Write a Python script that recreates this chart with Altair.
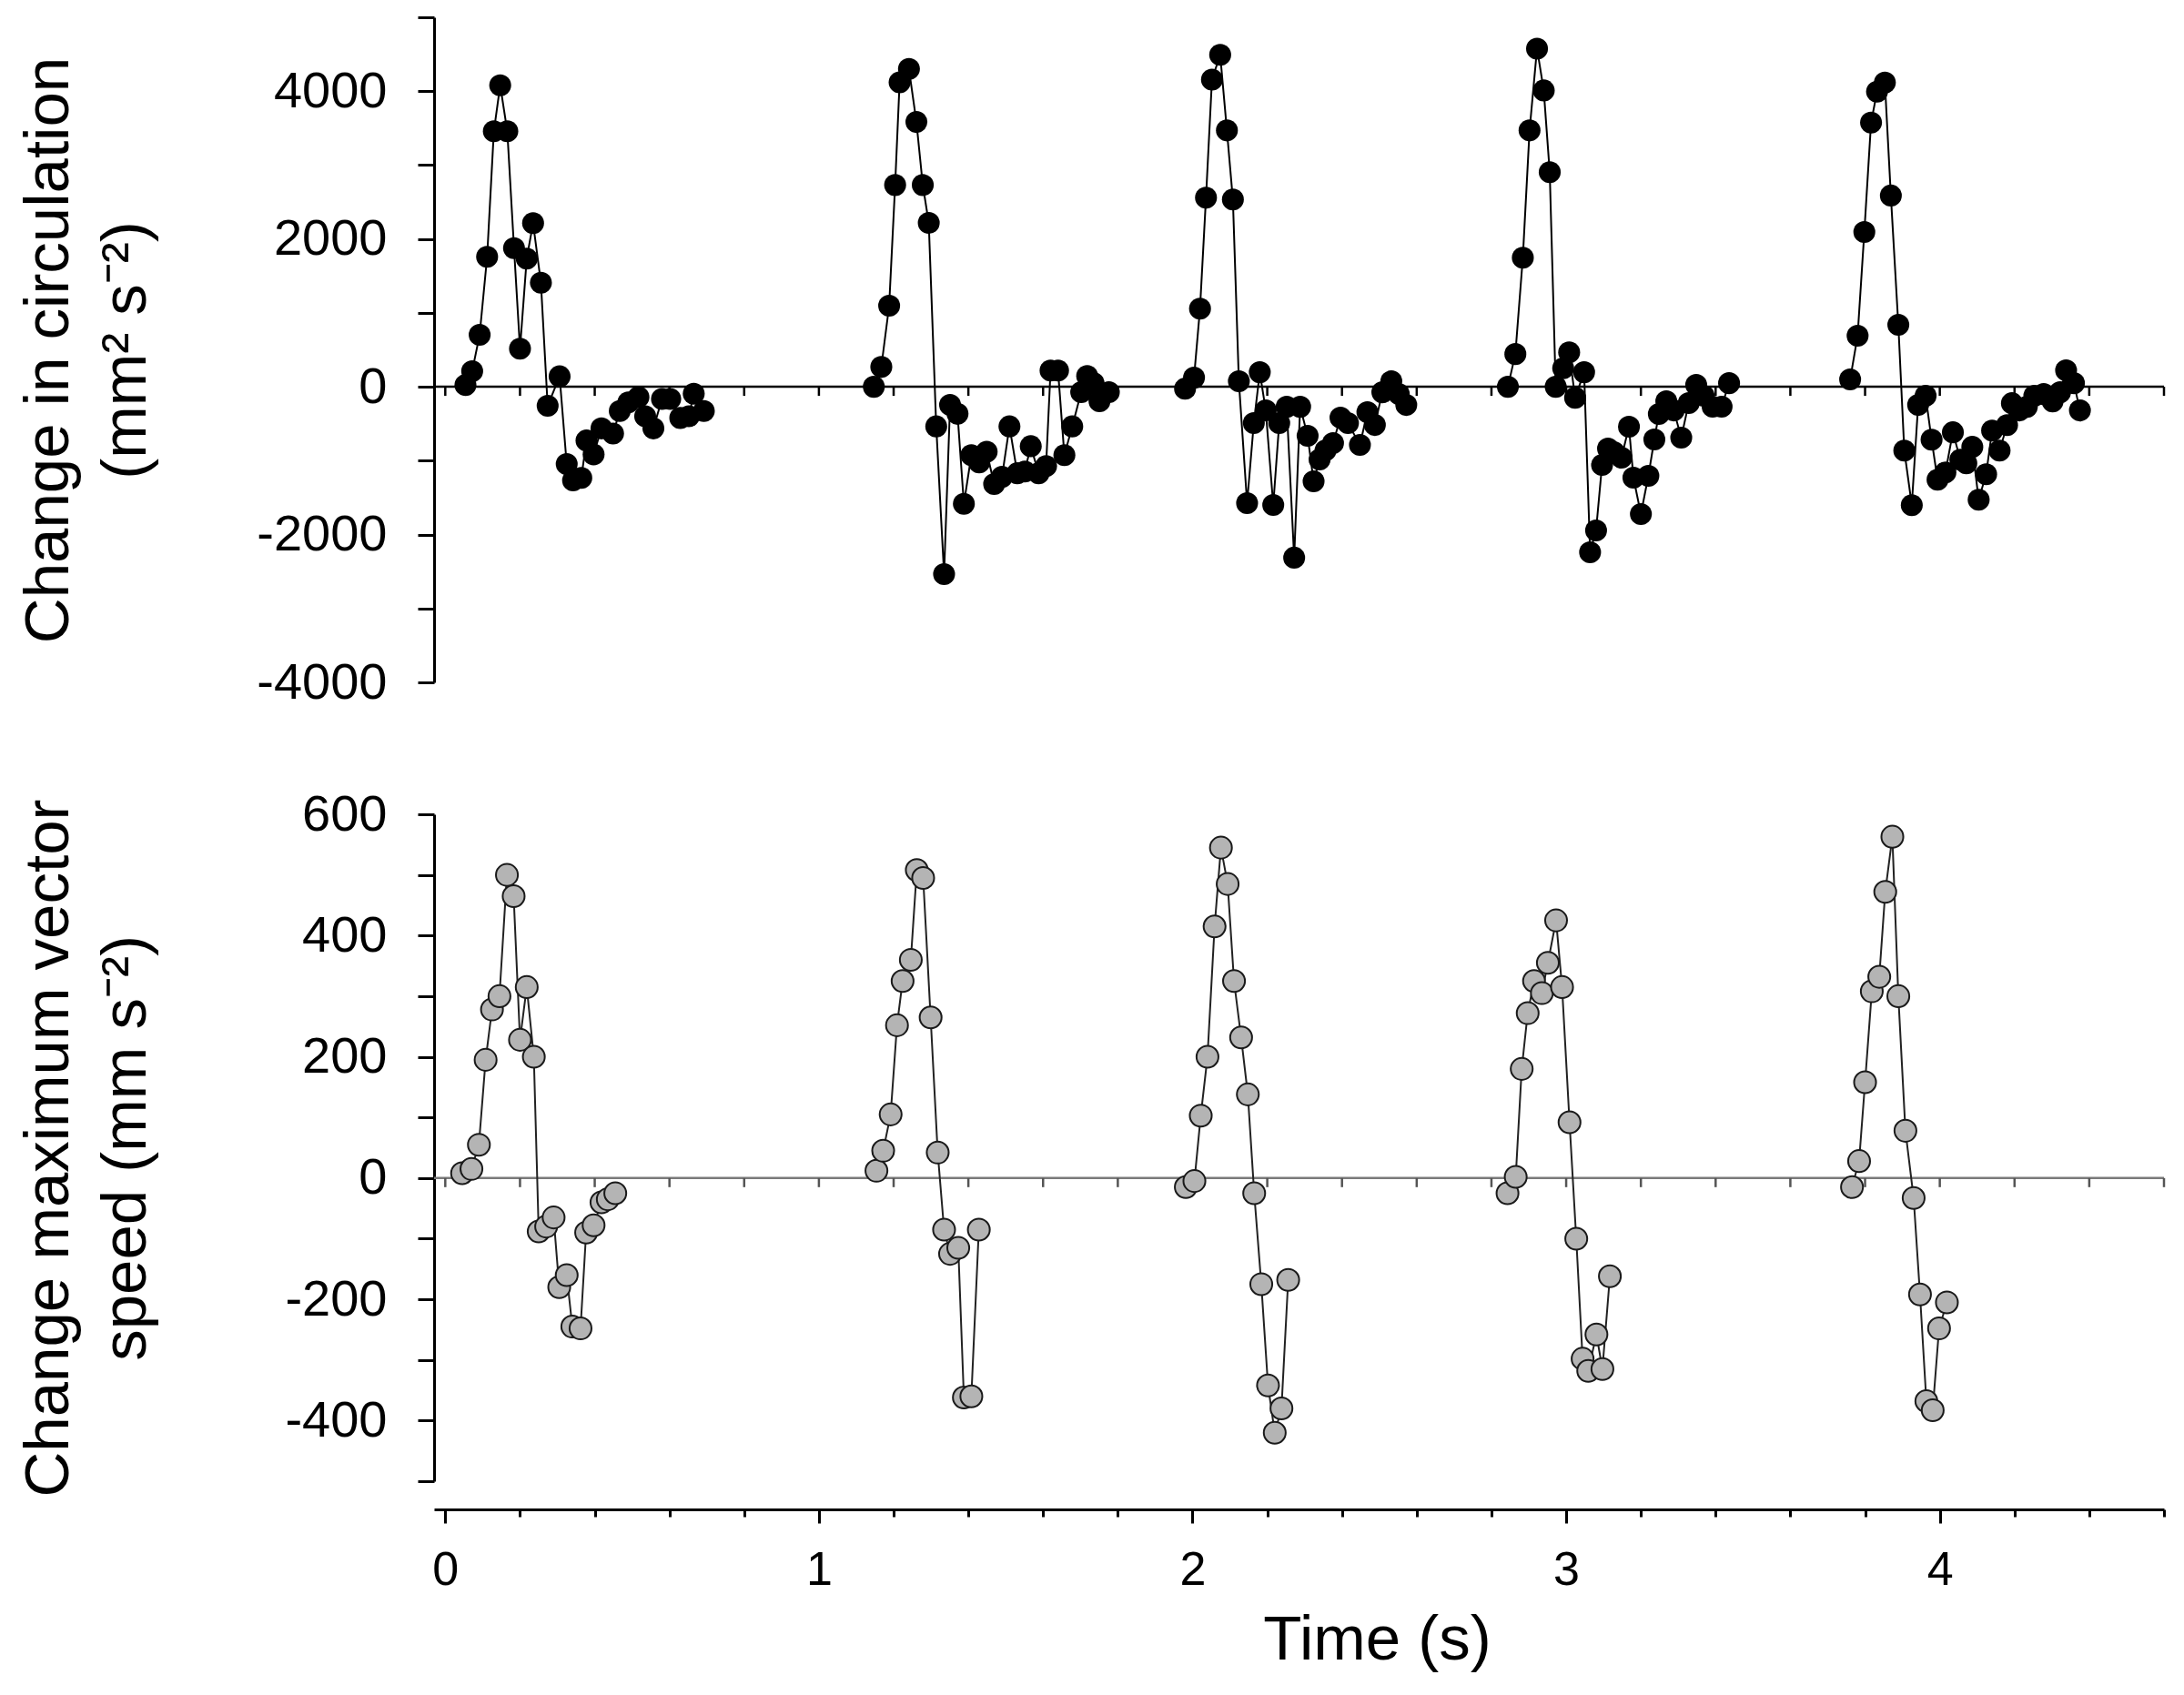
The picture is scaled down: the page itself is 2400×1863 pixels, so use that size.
import altair as alt
import pandas as pd

FONT = "Liberation Sans"

# ---------------- data: change in circulation (mm^2 s^-2) ----------------
CIRC_T_1 = [0.054, 0.072, 0.092, 0.112, 0.130, 0.147, 0.166, 0.184, 0.200, 0.218, 0.235, 0.256,
            0.274, 0.306, 0.325, 0.342, 0.364, 0.378, 0.397, 0.418, 0.449, 0.467, 0.490, 0.517,
            0.535, 0.557, 0.580, 0.602, 0.629, 0.652, 0.665, 0.692]
CIRC_V_1 = [23, 211, 704, 1759, 3457, 4080, 3457, 1876, 516, 1735, 2214, 1407,
            -258, 141, -1046, -1266, -1233, -727, -915, -563, -633, -328, -211, -141,
            -399, -563, -164, -164, -422, -399, -94, -328]

CIRC_T_2 = [1.147, 1.167, 1.188, 1.204, 1.216, 1.241, 1.261, 1.278, 1.294, 1.314, 1.335, 1.351,
            1.371, 1.388, 1.408, 1.429, 1.449, 1.469, 1.490, 1.510, 1.531, 1.551, 1.567, 1.588,
            1.608, 1.620, 1.640, 1.657, 1.678, 1.702, 1.718, 1.735, 1.751, 1.776]
CIRC_V_2 = [0, 268, 1097, 2730, 4120, 4300, 3583, 2730, 2218, -536, -2535, -244,
            -366, -1584, -926, -1024, -878, -1316, -1219, -536, -1170, -1146, -804, -1170,
            -1072, 219, 219, -926, -536, -73, 146, 49, -195, -73]

CIRC_T_3 = [1.980, 2.004, 2.020, 2.036, 2.052, 2.074, 2.092, 2.108, 2.124, 2.146, 2.164, 2.180,
            2.196, 2.216, 2.232, 2.252, 2.272, 2.288, 2.308, 2.324, 2.340, 2.356, 2.376, 2.396,
            2.416, 2.448, 2.468, 2.488, 2.508, 2.532, 2.552, 2.572]
CIRC_V_3 = [-25, 123, 1058, 2558, 4157, 4492, 3469, 2534, 74, -1574, -492, 197,
            -320, -1599, -492, -271, -2312, -271, -664, -1279, -984, -861, -763, -418,
            -492, -787, -344, -517, -74, 74, -98, -246]

CIRC_T_4 = [2.844, 2.864, 2.884, 2.902, 2.922, 2.940, 2.956, 2.972, 2.992, 3.008, 3.024, 3.048,
            3.064, 3.080, 3.096, 3.112, 3.128, 3.148, 3.168, 3.180, 3.200, 3.220, 3.236, 3.248,
            3.268, 3.288, 3.308, 3.328, 3.348, 3.368, 3.392, 3.416, 3.436]
CIRC_V_4 = [0, 443, 1747, 3469, 4576, 4010, 2903, 0, 250, 467, -148, 197,
            -2239, -1943, -1058, -836, -885, -959, -541, -1230, -1722, -1205, -713, -369,
            -197, -320, -689, -221, 25, -123, -270, -270, 49]

CIRC_T_5 = [3.760, 3.780, 3.798, 3.816, 3.832, 3.853, 3.869, 3.889, 3.905, 3.925, 3.942, 3.962,
            3.978, 3.994, 4.015, 4.035, 4.055, 4.071, 4.087, 4.104, 4.124, 4.140, 4.160, 4.180,
            4.193, 4.213, 4.233, 4.253, 4.278, 4.302, 4.322, 4.338, 4.359, 4.375]
CIRC_V_5 = [99, 690, 2095, 3574, 3993, 4117, 2588, 838, -863, -1602, -246, -123,
            -715, -1257, -1159, -616, -986, -1035, -813, -1528, -1183, -592, -863, -518,
            -222, -320, -271, -123, -99, -197, -74, 222, 49, -320]

# ---------------- data: change in maximum vector speed (mm s^-2) ----------------
SPEED_T_1 = [0.045, 0.070, 0.090, 0.108, 0.125, 0.145, 0.165, 0.183, 0.200, 0.218, 0.237, 0.250,
             0.270, 0.290, 0.305, 0.325, 0.340, 0.362, 0.377, 0.397, 0.418, 0.435, 0.455]
SPEED_V_1 = [8, 15, 55, 195, 278, 300, 500, 465, 228, 315, 200, -88,
             -80, -65, -180, -160, -245, -248, -90, -78, -40, -35, -25]

SPEED_T_2 = [1.154, 1.172, 1.192, 1.209, 1.224, 1.246, 1.262, 1.279, 1.299, 1.318, 1.335, 1.351,
             1.373, 1.388, 1.408, 1.428]
SPEED_V_2 = [12, 45, 105, 252, 325, 360, 508, 495, 265, 42, -85, -125,
             -115, -362, -360, -85]

SPEED_T_3 = [1.982, 2.005, 2.022, 2.040, 2.059, 2.076, 2.094, 2.111, 2.130, 2.148, 2.165, 2.184,
             2.202, 2.220, 2.238, 2.256]
SPEED_V_3 = [-15, -5, 103, 200, 415, 545, 485, 325, 232, 138, -25, -175,
             -342, -420, -380, -168]

SPEED_T_4 = [2.843, 2.865, 2.881, 2.897, 2.914, 2.935, 2.951, 2.973, 2.989, 3.009, 3.027, 3.044,
             3.059, 3.081, 3.097, 3.117]
SPEED_V_4 = [-25, 2, 180, 272, 325, 305, 355, 425, 315, 92, -100, -298,
             -318, -258, -315, -162]

SPEED_T_5 = [3.765, 3.784, 3.800, 3.818, 3.838, 3.854, 3.873, 3.889, 3.908, 3.930, 3.947, 3.964,
             3.981, 3.998, 4.019]
SPEED_V_5 = [-15, 28, 158, 308, 332, 472, 563, 300, 78, -33, -192, -368,
             -383, -248, -205]

# ---------------- axes ----------------
X_DOMAIN = [-0.03, 4.6]
X_TICKS = [0, 0.2, 0.4, 0.6, 0.8, 1, 1.2, 1.4, 1.6, 1.8, 2, 2.2, 2.4, 2.6, 2.8, 3,
           3.2, 3.4, 3.6, 3.8, 4, 4.2, 4.4, 4.6]
CIRC_DOMAIN = [-4000, 5000]
CIRC_TICKS = [-4000, -3000, -2000, -1000, 0, 1000, 2000, 3000, 4000, 5000]
SPEED_DOMAIN = [-500, 600]
SPEED_TICKS = [-500, -400, -300, -200, -100, 0, 100, 200, 300, 400, 500, 600]

CIRC_TITLE = ["Change in circulation", "(mm\u00b2 s\u207b\u00b2)"]
SPEED_TITLE = ["Change maximum vector", "speed (mm s\u207b\u00b2)"]
X_TITLE = "Time (s)"


def frame(ts, vs):
    rows = []
    for i, (tt, vv) in enumerate(zip(ts, vs)):
        for a, b in zip(tt, vv):
            rows.append({"t": a, "v": b, "cycle": i + 1})
    return pd.DataFrame(rows)


circ_df = frame([CIRC_T_1, CIRC_T_2, CIRC_T_3, CIRC_T_4, CIRC_T_5],
                [CIRC_V_1, CIRC_V_2, CIRC_V_3, CIRC_V_4, CIRC_V_5])
speed_df = frame([SPEED_T_1, SPEED_T_2, SPEED_T_3, SPEED_T_4, SPEED_T_5],
                 [SPEED_V_1, SPEED_V_2, SPEED_V_3, SPEED_V_4, SPEED_V_5])

zero_df = pd.DataFrame({"t": [X_DOMAIN[0]], "t2": [X_DOMAIN[1]], "v": [0]})
zero_ticks_df = pd.DataFrame({"t": X_TICKS, "v": [0] * len(X_TICKS)})

W = 1901
H_TOP = 731
H_BOT = 733

x_scale = alt.Scale(domain=X_DOMAIN, nice=False, zero=False)

# ---------- top panel ----------
x_top = alt.X("t:Q", scale=x_scale, axis=None)
y_top = alt.Y(
    "v:Q",
    scale=alt.Scale(domain=CIRC_DOMAIN, nice=False),
    axis=alt.Axis(
        values=CIRC_TICKS,
        labelExpr="datum.value % 2000 === 0 && datum.value <= 4000 ? toString(datum.value) : ''",
        title=CIRC_TITLE,
        titlePadding=108,
    ),
)

top_zero = alt.Chart(zero_df).mark_rule(color="black", strokeWidth=2.5).encode(
    x=x_top, x2="t2:Q", y=y_top)
top_ticks = alt.Chart(zero_ticks_df).mark_tick(
    orient="vertical", size=10, thickness=2.5, yOffset=5, color="black", opacity=1
).encode(x=x_top, y=y_top)
top_line = alt.Chart(circ_df).mark_line(color="black", strokeWidth=2).encode(
    x=x_top, y=y_top, detail="cycle:N", order="t:Q")
top_pts = alt.Chart(circ_df).mark_circle(size=580, color="black", opacity=1).encode(
    x=x_top, y=y_top)

top = alt.layer(top_zero, top_ticks, top_line, top_pts).properties(width=W, height=H_TOP)

# ---------- bottom panel ----------
x_bot = alt.X(
    "t:Q",
    scale=x_scale,
    axis=alt.Axis(
        values=X_TICKS,
        labelExpr="datum.value % 1 === 0 ? toString(datum.value) : ''",
        tickSize={"condition": {"test": "datum.value % 1 === 0", "value": 15}, "value": 8},
        offset=31,
        labelPadding=26,
        labelFontSize=52,
        title=X_TITLE,
        titlePadding=17,
        titleX=1036,
    ),
)
y_bot = alt.Y(
    "v:Q",
    scale=alt.Scale(domain=SPEED_DOMAIN, nice=False),
    axis=alt.Axis(
        values=SPEED_TICKS,
        labelExpr="datum.value % 200 === 0 ? toString(datum.value) : ''",
        title=SPEED_TITLE,
        titlePadding=139,
    ),
)

bot_zero = alt.Chart(zero_df).mark_rule(color="#7a7a7a", strokeWidth=2.5).encode(
    x=x_bot, x2="t2:Q", y=y_bot)
bot_ticks = alt.Chart(zero_ticks_df).mark_tick(
    orient="vertical", size=10, thickness=2.5, yOffset=5, color="#555555", opacity=1
).encode(x=x_bot, y=y_bot)
bot_line = alt.Chart(speed_df).mark_line(color="#222222", strokeWidth=2).encode(
    x=x_bot, y=y_bot, detail="cycle:N", order="t:Q")
bot_pts = alt.Chart(speed_df).mark_point(
    shape="circle", size=580, filled=True, fill="#b4b4b4", stroke="#1a1a1a",
    strokeWidth=2, opacity=1, fillOpacity=1
).encode(x=x_bot, y=y_bot)

bottom = alt.layer(bot_zero, bot_ticks, bot_line, bot_pts).properties(width=W, height=H_BOT)

chart = (
    alt.vconcat(top, bottom, spacing=89)
    .properties(padding={"left": 11, "top": 9, "right": 5, "bottom": 5})
    .configure_view(strokeWidth=0)
    .configure_axis(
        grid=False,
        domainColor="black",
        domainWidth=3,
        tickColor="black",
        tickWidth=3,
        tickSize=18,
        labelPadding=34,
        labelFont=FONT,
        labelFontSize=56,
        labelColor="black",
        titleFont=FONT,
        titleFontSize=69,
        titleFontWeight="normal",
        titleColor="black",
        titleLineHeight=85,
    )
)

chart.save("out.html", embed_options={"renderer": "svg", "actions": False})
